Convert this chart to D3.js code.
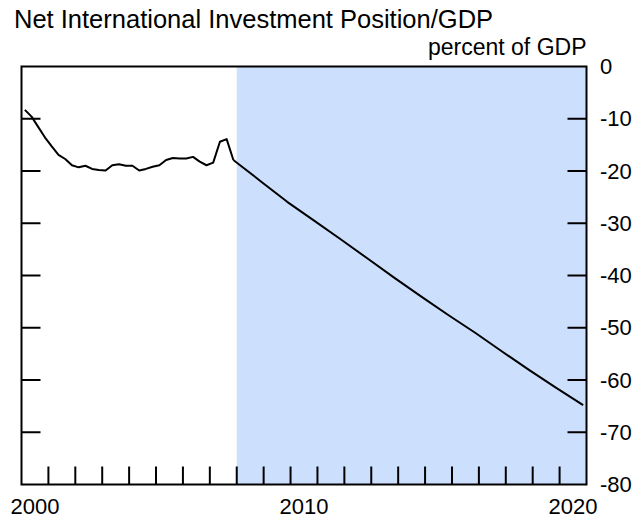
<!DOCTYPE html>
<html>
<head>
<meta charset="utf-8">
<script src="https://cdn.jsdelivr.net/npm/d3@7"></script>
<style>
  body { margin: 0; background: #fff; }
  text { font-family: "Liberation Sans", Arial, sans-serif; fill: #000; }
</style>
</head>
<body>
<script>
var title = "Net International Investment Position/GDP"
var unitLabel = "percent of GDP"

// quarterly history (decimal year, percent of GDP)
var histYears = [2000.125, 2000.375, 2000.625, 2000.875, 2001.125, 2001.375, 2001.625, 2001.875,
                 2002.125, 2002.375, 2002.625, 2002.875, 2003.125, 2003.375, 2003.625, 2003.875,
                 2004.125, 2004.375, 2004.625, 2004.875, 2005.125, 2005.375, 2005.625, 2005.875,
                 2006.125, 2006.375, 2006.625, 2006.875, 2007.125, 2007.375, 2007.625, 2007.875]
var histValues = [-8.3, -9.6, -11.6, -13.6, -15.3, -16.9, -17.7, -18.9,
                  -19.3, -19.0, -19.6, -19.8, -19.9, -18.9, -18.7, -19.0,
                  -19.0, -19.9, -19.6, -19.2, -18.9, -17.9, -17.5, -17.6,
                  -17.6, -17.3, -18.2, -18.9, -18.4, -14.4, -13.9, -17.9]

// projection
var projYears = [2007.875, 2008.125, 2008.875, 2009.875, 2010.875, 2011.875, 2012.875, 2013.875,
                 2014.875, 2015.875, 2016.875, 2017.875, 2018.875, 2019.875, 2020.875]
var projValues = [-17.9, -18.9, -21.9, -25.9, -29.5, -33.1, -36.8, -40.5,
                  -44.1, -47.6, -51.0, -54.6, -58.1, -61.5, -64.8]

var shadeStart = 2008
var xDomain = [2000, 2021]
var yDomain = [-80, 0]
var yTicks = [0, -10, -20, -30, -40, -50, -60, -70, -80]
var xTickYears = d3.range(2001, 2021)
var xLabels = [2000, 2010, 2020]

var showChart = function() {

  var w = 636
  var h = 519
  var pl = 21.5, pr = 586.5, pt = 66.5, pb = 484.5   // frame edges

  var svg = d3.select("body").append("svg")
    .attr("width", w)
    .attr("height", h)

  var x = d3.scaleLinear().domain(xDomain).range([pl, pr])
  var y = d3.scaleLinear().domain(yDomain).range([pb, pt])

  // shaded projection period
  svg.append("rect")
    .attr("x", x(shadeStart))
    .attr("y", pt)
    .attr("width", x(xDomain[1]) - x(shadeStart))
    .attr("height", pb - pt)
    .attr("fill", "#cce0fe")

  // y ticks, both sides, pointing inward
  var tickLen = 19
  yTicks.slice(1, -1).forEach(function (t) {
    svg.append("line")
      .attr("x1", pl).attr("x2", pl + tickLen)
      .attr("y1", y(t)).attr("y2", y(t))
      .attr("stroke", "#000").attr("stroke-width", 2)
    svg.append("line")
      .attr("x1", pr - tickLen).attr("x2", pr)
      .attr("y1", y(t)).attr("y2", y(t))
      .attr("stroke", "#000").attr("stroke-width", 2)
  })

  // x ticks at year boundaries
  svg.selectAll("line.xtick")
    .data(xTickYears)
    .enter()
    .append("line")
    .attr("class", "xtick")
    .attr("x1", function (d) { return x(d) })
    .attr("x2", function (d) { return x(d) })
    .attr("y1", pb)
    .attr("y2", pb - 18)
    .attr("stroke", "#000")
    .attr("stroke-width", 2)

  // frame
  svg.append("rect")
    .attr("x", pl).attr("y", pt)
    .attr("width", pr - pl).attr("height", pb - pt)
    .attr("fill", "none")
    .attr("stroke", "#000")
    .attr("stroke-width", 2)

  // line: history then projection
  var histData = histYears.map(function (d, i) { return [d, histValues[i]] })
  var projData = projYears.map(function (d, i) { return [d, projValues[i]] })
  var line = d3.line()
    .x(function (d) { return x(d[0]) })
    .y(function (d) { return y(d[1]) })

  ;[histData, projData].forEach(function (data) {
    svg.append("path")
      .datum(data)
      .attr("d", line)
      .attr("fill", "none")
      .attr("stroke", "#000")
      .attr("stroke-width", 2)
      .attr("stroke-linejoin", "round")
  })

  // right axis labels
  svg.selectAll("text.ylab")
    .data(yTicks)
    .enter()
    .append("text")
    .attr("class", "ylab")
    .attr("x", 600)
    .attr("y", function (d) { return y(d) })
    .attr("dy", "0.35em")
    .attr("font-size", 22)
    .text(function (d) { return d })

  // x labels centred on their year
  svg.selectAll("text.xlab")
    .data(xLabels)
    .enter()
    .append("text")
    .attr("class", "xlab")
    .attr("x", function (d) { return x(d + 0.5) })
    .attr("y", 514)
    .attr("text-anchor", "middle")
    .attr("font-size", 22)
    .text(function (d) { return d })

  svg.append("text")
    .attr("x", 14)
    .attr("y", 28)
    .attr("font-size", 25.5)
    .text(title)

  svg.append("text")
    .attr("x", pr)
    .attr("y", 55)
    .attr("text-anchor", "end")
    .attr("font-size", 23)
    .text(unitLabel)
}

showChart()
</script>
</body>
</html>
